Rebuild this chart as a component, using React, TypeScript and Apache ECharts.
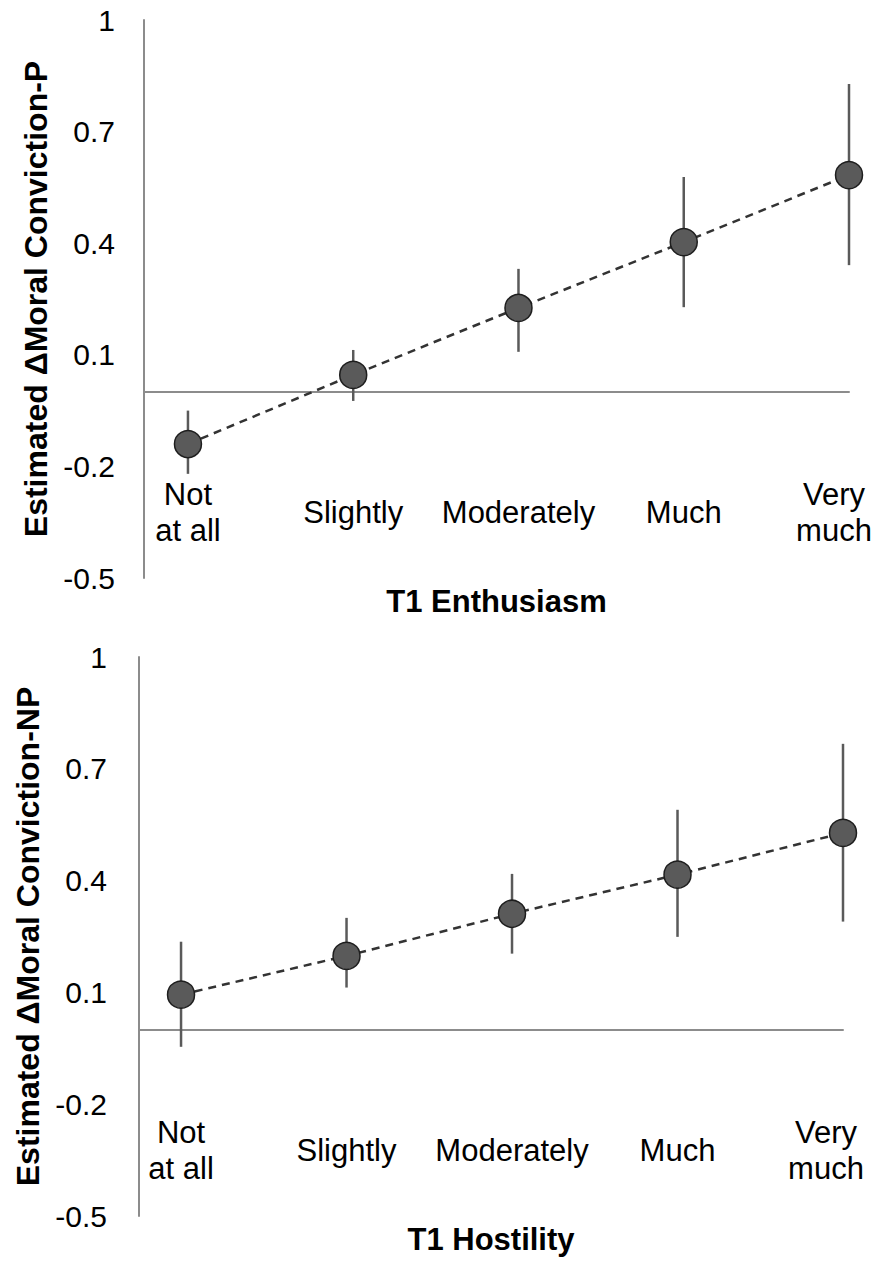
import React, { useEffect, useRef } from "react";
import * as echarts from "echarts";

const categories = ["Not\nat all", "Slightly", "Moderately", "Much", "Very\nmuch"];
const yTicks = [-0.5, -0.2, 0.1, 0.4, 0.7, 1];

const enthusiasmMean = [-0.14, 0.046, 0.226, 0.403, 0.583];
const enthusiasmLower = [-0.22, -0.024, 0.108, 0.228, 0.341];
const enthusiasmUpper = [-0.05, 0.113, 0.331, 0.578, 0.828];

const hostilityMean = [0.094, 0.198, 0.311, 0.416, 0.528];
const hostilityLower = [-0.046, 0.113, 0.204, 0.249, 0.29];
const hostilityUpper = [0.236, 0.3, 0.418, 0.59, 0.767];

const FONT = "'Liberation Sans', Arial, sans-serif";
const AXIS_GRAY = "#8c8c8c";

function xAxisFor(gridIndex: number, min: number, title: string, lastPad: number) {
  return {
    type: "value",
    gridIndex,
    min,
    max: 4,
    splitLine: { show: false },
    axisTick: { show: false },
    axisLine: { show: true, onZero: true, lineStyle: { color: AXIS_GRAY, width: 2 } },
    axisLabel: {
      customValues: [0, 1, 2, 3, 4],
      formatter: (v: number) => {
        const i = Math.round(v);
        const name = categories[i];
        if (i === categories.length - 1) {
          return name
            .split("\n")
            .map((l) => `{last|${l}}`)
            .join("\n");
        }
        return name;
      },
      fontFamily: FONT,
      fontSize: 31,
      lineHeight: 36,
      color: "#000",
      margin: -66,
      verticalAlign: "middle",
      rich: {
        last: {
          fontFamily: FONT,
          fontSize: 31,
          lineHeight: 36,
          color: "#000",
          padding: [0, lastPad, 0, 0],
        },
      },
    },
    name: title,
    nameLocation: "middle",
    nameGap: 8,
    nameTextStyle: { fontFamily: FONT, fontSize: 31, fontWeight: "bold", color: "#000" },
  };
}

function yAxisFor(gridIndex: number, title: string, margin: number) {
  return {
    type: "value",
    gridIndex,
    min: -0.5,
    max: 1,
    splitLine: { show: false },
    axisTick: { show: false },
    axisLine: { show: true, onZero: false, lineStyle: { color: AXIS_GRAY, width: 2 } },
    axisLabel: {
      customValues: yTicks,
      fontFamily: FONT,
      fontSize: 30,
      color: "#000",
      margin,
    },
    name: title,
    nameLocation: "middle",
    nameGap: 90,
    nameTextStyle: { fontFamily: FONT, fontSize: 32, fontWeight: "bold", color: "#000" },
  };
}

function errorSeries(idx: number, lower: number[], upper: number[]) {
  return {
    type: "custom",
    xAxisIndex: idx,
    yAxisIndex: idx,
    clip: false,
    z: 2,
    data: lower.map((lo, i) => [i, lo, upper[i]]),
    encode: { x: 0, y: [1, 2] },
    renderItem: (_params: any, api: any) => {
      const x = api.value(0);
      const a = api.coord([x, api.value(1)]);
      const b = api.coord([x, api.value(2)]);
      return {
        type: "line",
        shape: { x1: a[0], y1: a[1], x2: b[0], y2: b[1] },
        style: { stroke: "#5a5a5a", lineWidth: 2.5 },
      };
    },
  };
}

function meanSeries(idx: number, mean: number[]) {
  return {
    type: "line",
    xAxisIndex: idx,
    yAxisIndex: idx,
    clip: false,
    z: 3,
    data: mean.map((v, i) => [i, v]),
    symbol: "circle",
    symbolSize: 27,
    itemStyle: { color: "#5a5a5a", borderColor: "#1e1e1e", borderWidth: 1.5 },
    lineStyle: { type: [8, 6], color: "#333", width: 2.5 },
  };
}

export default function App() {
  const ref = useRef<HTMLDivElement>(null);
  useEffect(() => {
    if (!ref.current) return;
    const chart = echarts.init(ref.current, undefined, { renderer: "svg" });
    chart.setOption({
      animation: false,
      backgroundColor: "#fff",
      grid: [
        { left: 144, top: 20, width: 705, height: 558, outerBoundsMode: "none", containLabel: false },
        { left: 139, top: 657, width: 704, height: 559, outerBoundsMode: "none", containLabel: false },
      ],
      xAxis: [
        xAxisFor(0, -0.266, "T1 Enthusiasm", 30),
        xAxisFor(1, -0.254, "T1 Hostility", 34),
      ],
      yAxis: [
        yAxisFor(0, "Estimated ΔMoral Conviction-P", 29),
        yAxisFor(1, "Estimated ΔMoral Conviction-NP", 32),
      ],
      series: [
        errorSeries(0, enthusiasmLower, enthusiasmUpper),
        meanSeries(0, enthusiasmMean),
        errorSeries(1, hostilityLower, hostilityUpper),
        meanSeries(1, hostilityMean),
      ],
    });
    return () => chart.dispose();
  }, []);
  return (
    <div
      ref={ref}
      style={{ position: "absolute", left: 0, top: 0, width: 886, height: 1270 }}
    />
  );
}
